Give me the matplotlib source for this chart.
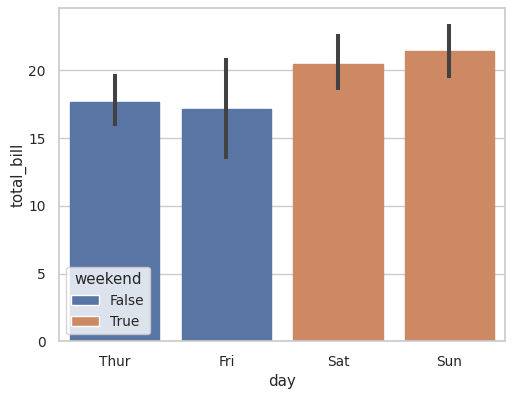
import matplotlib
matplotlib.use("Agg")
import matplotlib.pyplot as plt
import seaborn as sns
from matplotlib.patches import Patch

sns.set_theme(style="whitegrid", font_scale=0.9)

days = ["Thur", "Fri", "Sat", "Sun"]
weekend = [False, False, True, True]
mean_bill = [17.68, 17.15, 20.44, 21.41]
ci_low = [15.9, 13.45, 18.55, 19.4]
ci_high = [19.7, 20.9, 22.7, 23.45]

pal = [sns.desaturate(c, 0.75) for c in sns.color_palette()[:2]]
colors = [pal[1] if w else pal[0] for w in weekend]

fig, ax = plt.subplots(figsize=(5.14, 3.96), dpi=100)
x = range(len(days))
ax.bar(x, mean_bill, width=0.8, color=colors, edgecolor=colors)
for i in x:
    ax.plot([i, i], [ci_low[i], ci_high[i]], color=".26", lw=2.9, solid_capstyle="butt")

ax.set_xticks(list(x))
ax.set_xticklabels(days)
ax.set_xlim(-0.5, 3.5)
ax.set_ylim(0, 24.6)
ax.set_xlabel("day")
ax.set_ylabel("total_bill", labelpad=1)
ax.xaxis.grid(False)

handles = [Patch(facecolor=pal[0], edgecolor="white", label="False"),
           Patch(facecolor=pal[1], edgecolor="white", label="True")]
ax.legend(handles=handles, title="weekend", loc="lower left")

fig.subplots_adjust(left=0.115, right=0.983, top=0.98, bottom=0.138)
fig.savefig("out.png", dpi=100)
